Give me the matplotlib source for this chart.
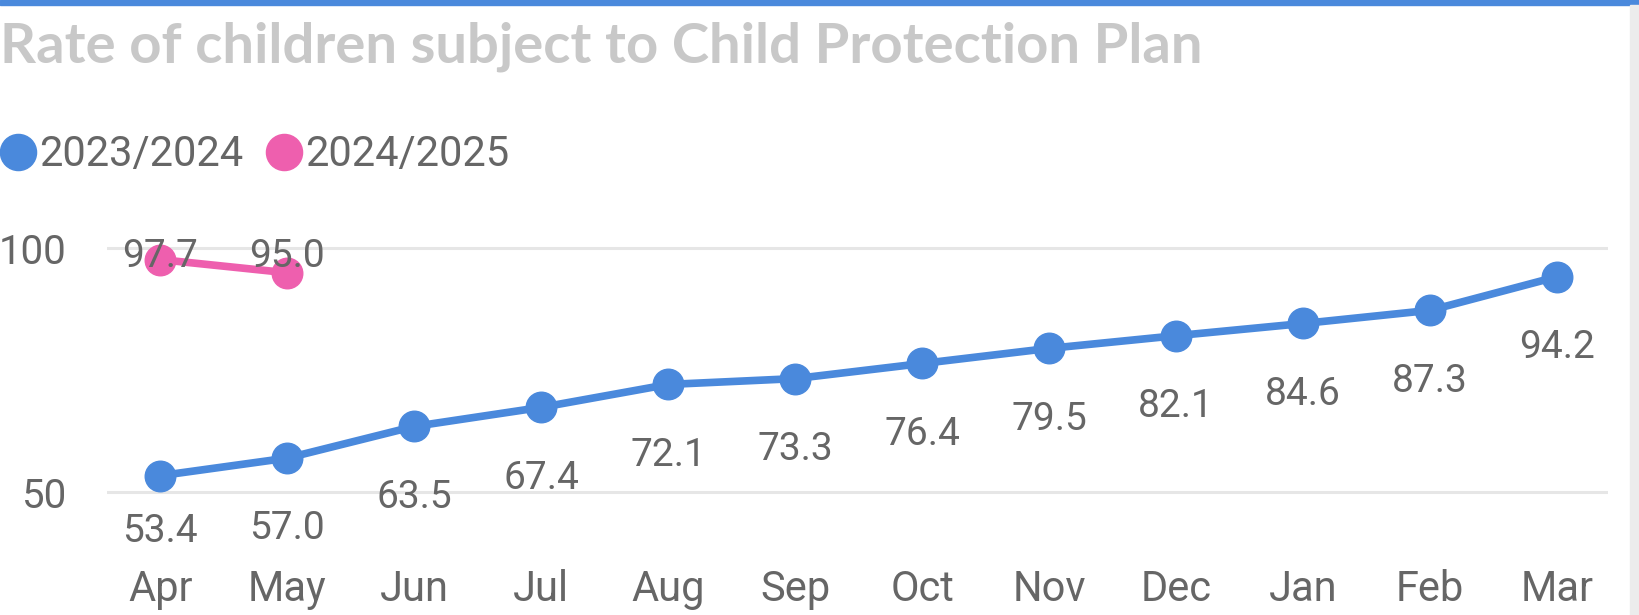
import matplotlib.pyplot as plt
from matplotlib.lines import Line2D
from matplotlib.patches import Rectangle

months = ["Apr", "May", "Jun", "Jul", "Aug", "Sep", "Oct", "Nov", "Dec", "Jan", "Feb", "Mar"]
rate_2324 = [53.4, 57.0, 63.5, 67.4, 72.1, 73.3, 76.4, 79.5, 82.1, 84.6, 87.3, 94.2]
rate_2425 = [97.7, 95.0]
series_names = ["2023/2024", "2024/2025"]

BLUE = "#4A89DC"
PINK = "#EE5FAE"
TEXT = "#666666"
FONT = ["Roboto", "DejaVu Sans"]

W, H = 1639, 615
fig = plt.figure(figsize=(W / 100, H / 100), dpi=100)

# axes placed in pixel terms: x from 107 to 1608, y 40..105 mapped to 541..224 px
ax = fig.add_axes([107 / W, 1 - 541 / H, 1501 / W, (541 - 224) / H])
ax.set_xlim(-0.42, 11.4)
ax.set_ylim(40, 105)

x = list(range(len(months)))
ax.plot(x, rate_2324, color=BLUE, lw=5.5, marker="o", ms=22, zorder=3)
ax.plot(x[:len(rate_2425)], rate_2425, color=PINK, lw=5.5, marker="o", ms=22, zorder=3)

# data labels: blue below, pink above (clamped inside plot area like Power BI)
for xi, v in zip(x, rate_2324):
    ax.text(xi, max(v - 14.5, 42.0), f"{v:.1f}", ha="center", va="center",
            fontsize=28, color=TEXT, family=FONT, zorder=4)
for xi, v in zip(x, rate_2425):
    ax.text(xi, min(v + 14.5, 98.4), f"{v:.1f}", ha="center", va="center",
            fontsize=28, color=TEXT, family=FONT, zorder=4)

for gy in (50, 100):
    ax.axhline(gy, color="#e6e6e6", lw=2.2, zorder=1)

ax.set_yticks([50, 100])
ax.set_yticklabels(["50", "100"], fontsize=29, color=TEXT, family=FONT)
ax.set_xticks(x)
ax.set_xticklabels(months, fontsize=30, color=TEXT, family=FONT)
ax.tick_params(axis="y", length=0, pad=29)
ax.tick_params(axis="x", length=0, pad=20)
for s in ax.spines.values():
    s.set_visible(False)
ax.patch.set_alpha(0)

fig.text(0.0, 1 - 62 / H, "Rate of children subject to Child Protection Plan",
         fontsize=40.5, fontweight="bold", color="#c8c8c8", family="Lato",
         va="baseline", ha="left")

handles = [Line2D([], [], color=c, marker="o", ls="none", ms=26) for c in (BLUE, PINK)]
leg = fig.legend(handles, series_names, loc="center left", bbox_to_anchor=(0.0, 1 - 155 / H),
                 ncol=2, frameon=False, borderpad=0, borderaxespad=0,
                 handlelength=0.86, handletextpad=0.08, columnspacing=0.55,
                 prop={"family": FONT, "size": 30})
for t in leg.get_texts():
    t.set_color(TEXT)

# top accent bar and right scrollbar strip
fig.patches.append(Rectangle((0, 1 - 5 / H), 1, 5 / H, transform=fig.transFigure,
                             color=BLUE, zorder=0))
fig.patches.append(Rectangle((1630 / W, 0), 9 / W, 1 - 5 / H, transform=fig.transFigure,
                             color="#ececec", zorder=0))

fig.savefig("out.png", dpi=100)
